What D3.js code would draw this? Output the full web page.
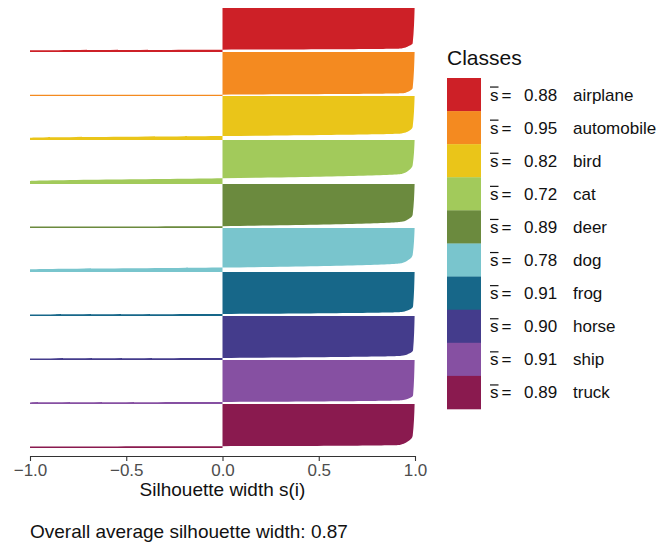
<!DOCTYPE html>
<html>
<head>
<meta charset="utf-8">
<script src="https://cdn.jsdelivr.net/npm/d3@7"></script>
<style>
  html, body { margin: 0; padding: 0; background: #fff; }
  svg { display: block; font-family: "Liberation Sans", Arial, Helvetica, sans-serif; }
</style>
</head>
<body>
<svg id="chart" width="671" height="543"></svg>
<script>
// Classes, in plotting order (top to bottom)
const classNames = ["airplane", "automobile", "bird", "cat", "deer", "dog", "frog", "horse", "ship", "truck"];
// Average silhouette width per class
const avgWidths = [0.88, 0.95, 0.82, 0.72, 0.89, 0.78, 0.91, 0.90, 0.91, 0.89];
// Number of observations per class
const clusterSizes = [1000, 1000, 1000, 1000, 1000, 1000, 1000, 1000, 1000, 1000];
const classColors = ["#CD2027", "#F48A20", "#EAC519", "#A2CA5B", "#6B8A3E", "#79C5CD", "#176789", "#443C8C", "#8650A2", "#8A1A4F"];
// Sorted silhouette widths per class: [rank fraction within class, s(i)]
const silhouetteProfiles = [
  [[0, 0.998], [0.80, 0.988], [0.86, 0.97], [0.92, 0.93], [0.948, 0.0], [0.96, -1.0], [1, -1.0]],
  [[0, 0.998], [0.82, 0.988], [0.89, 0.97], [0.94, 0.93], [0.97, 0.0], [0.974, -1.0], [1, -1.0]],
  [[0, 0.998], [0.70, 0.988], [0.79, 0.97], [0.85, 0.93], [0.91, 0.0], [0.95, -1.0], [1, -1.0]],
  [[0, 0.998], [0.57, 0.988], [0.70, 0.965], [0.77, 0.93], [0.87, 0.0], [0.932, -1.0], [1, -1.0]],
  [[0, 0.998], [0.70, 0.988], [0.80, 0.965], [0.86, 0.93], [0.958, 0.0], [0.966, -1.0], [1, -1.0]],
  [[0, 0.998], [0.61, 0.988], [0.73, 0.965], [0.80, 0.93], [0.90, 0.0], [0.943, -1.0], [1, -1.0]],
  [[0, 0.998], [0.78, 0.99], [0.86, 0.97], [0.91, 0.93], [0.955, 0.0], [0.966, -1.0], [1, -1.0]],
  [[0, 0.998], [0.77, 0.99], [0.85, 0.97], [0.905, 0.93], [0.955, 0.0], [0.966, -1.0], [1, -1.0]],
  [[0, 0.998], [0.80, 0.99], [0.87, 0.97], [0.915, 0.93], [0.955, 0.0], [0.964, -1.0], [1, -1.0]],
  [[0, 0.998], [0.72, 0.988], [0.86, 0.96], [0.93, 0.92], [0.96, 0.0], [0.966, -1.0], [1, -1.0]]
];
const xTicks = [-1.0, -0.5, 0.0, 0.5, 1.0];
const overallAvg = 0.87;

const svg = d3.select("#chart");
const margin = { left: 30, right: 256, top: 8, bottom: 95 };
const W = 671, H = 543;

const total = d3.sum(clusterSizes);
const x = d3.scaleLinear().domain([-1, 1]).range([margin.left, W - margin.right]);
const y = d3.scaleLinear().domain([0, total]).range([margin.top, H - margin.bottom]);

const starts = d3.cumsum([0, ...clusterSizes.slice(0, -1)]);

const area = d3.area()
  .curve(d3.curveMonotoneY)
  .y(d => d.y)
  .x0(x(0))
  .x1(d => x(d.s));

const bands = svg.append("g").attr("class", "bands");
silhouetteProfiles.forEach((prof, i) => {
  const pts = prof.map(([f, s]) => ({ y: y(starts[i] + f * clusterSizes[i]), s }));
  bands.append("path")
    .attr("d", area(pts))
    .attr("fill", classColors[i])
    .attr("stroke", "none");
});

// x axis
const axisY = 456;
const axis = d3.axisBottom(x)
  .tickValues(xTicks)
  .tickFormat(d3.format(".1f"))
  .tickSizeInner(5)
  .tickSizeOuter(0)
  .tickPadding(3);
const gx = svg.append("g").attr("transform", `translate(0,${axisY})`).call(axis);
gx.select(".domain").attr("stroke", "#333").attr("stroke-width", 1.1);
gx.selectAll(".tick line").attr("stroke", "#333").attr("stroke-width", 1.1);
gx.selectAll(".tick text").attr("fill", "#4D4D4D").attr("font-size", 17).attr("font-family", null);

svg.append("text")
  .attr("x", x(0)).attr("y", 496)
  .attr("text-anchor", "middle")
  .attr("font-size", 19)
  .attr("fill", "#111")
  .text("Silhouette width s(i)");

svg.append("text")
  .attr("x", 30).attr("y", 538)
  .attr("font-size", 19)
  .attr("fill", "#111")
  .text("Overall average silhouette width: " + overallAvg.toFixed(2));

// legend
const legX = 447, legY = 78, keyW = 34, keyH = 33.1;
svg.append("text")
  .attr("x", legX).attr("y", 65)
  .attr("font-size", 21)
  .attr("fill", "#111")
  .text("Classes");

const fs = 17;
const leg = svg.append("g");
classNames.forEach((name, i) => {
  const cy = legY + keyH * i + keyH / 2;
  leg.append("rect")
    .attr("x", legX).attr("y", legY + keyH * i)
    .attr("width", keyW).attr("height", keyH + 0.3)
    .attr("fill", classColors[i]);
  const sText = leg.append("text")
    .attr("x", 490).attr("y", cy + 6)
    .attr("font-size", fs).attr("fill", "#111")
    .text("s");
  const sw = sText.node().getComputedTextLength();
  leg.append("line")
    .attr("x1", 490).attr("x2", 490 + sw)
    .attr("y1", cy - 7.5).attr("y2", cy - 7.5)
    .attr("stroke", "#111").attr("stroke-width", 1.2);
  leg.append("text")
    .attr("x", 490 + sw + 3).attr("y", cy + 6)
    .attr("font-size", fs).attr("fill", "#111")
    .text("=");
  leg.append("text")
    .attr("x", 524).attr("y", cy + 6)
    .attr("font-size", fs).attr("fill", "#111")
    .text(avgWidths[i].toFixed(2));
  leg.append("text")
    .attr("x", 573).attr("y", cy + 6)
    .attr("font-size", fs).attr("fill", "#111")
    .text(name);
});
</script>
</body>
</html>
